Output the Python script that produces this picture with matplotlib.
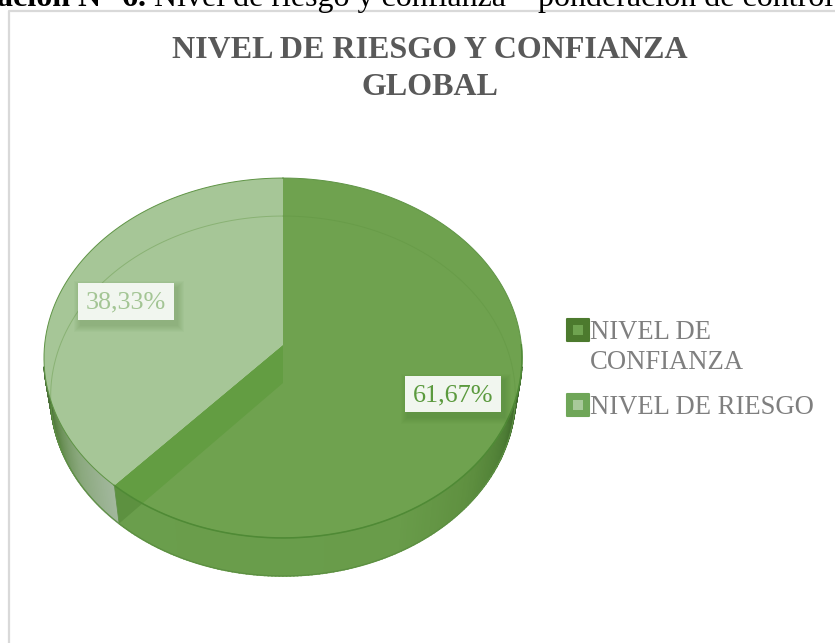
import numpy as np
import matplotlib
matplotlib.use('Agg')
import matplotlib.pyplot as plt
from matplotlib.colors import LinearSegmentedColormap
from matplotlib.patches import Rectangle

categories = [['NIVEL DE', 'CONFIANZA'], ['NIVEL DE RIESGO']]
values = [61.67, 38.33]
value_labels = ['61,67%', '38,33%']
caption_bold = 'ación N° 6.'
caption_rest = ' Nivel de riesgo y confianza – ponderación de control'
title = 'NIVEL DE RIESGO Y CONFIANZA\nGLOBAL'

plt.rcParams['font.family'] = ['Liberation Serif', 'DejaVu Serif']

fig = plt.figure(figsize=(8.35, 6.43), dpi=100)
ax = fig.add_axes([0, 0, 1, 1])
ax.set_xlim(0, 835)
ax.set_ylim(643, 0)
ax.axis('off')

# pie is a tilted disc, so map the unit circle with a small perspective
CX = 283
DEPTH = 38
LOW_SCALE = 0.972
def project(theta):
    u, v = np.sin(theta), np.cos(theta)
    w = 0.0722 * v + 1
    return CX + 238.4 * u / w, (-154.1 * v + 345) / w

def project_low(theta):
    x, y = project(theta)
    return CX + (x - CX) * LOW_SCALE, y + DEPTH

split = 2 * np.pi * values[0] / sum(values)
th_dark = np.linspace(0, split, 200)
th_light = np.linspace(split, 2 * np.pi, 140)

# side walls, coloured by angle
wall_dark = LinearSegmentedColormap.from_list('wd', [
    (0, '#36592a'), (0.07, '#3f6a2c'), (0.15, '#4f7f36'), (0.28, '#5f9040'), (0.45, '#699c4a'), (1, '#6a9e4c')])
wall_light = LinearSegmentedColormap.from_list('wl', [
    (0, '#a3b89e'), (0.35, '#8aa87d'), (0.7, '#5f8749'), (1, '#4a6f38')])

def draw_wall(start, stop, cmap):
    th = np.linspace(start, stop, 150)
    for i in range(len(th) - 1):
        xa, ya = project(th[i])
        xb, yb = project(th[i + 1])
        xc, yc = project_low(th[i + 1])
        xd, yd = project_low(th[i])
        ax.fill([xa, xb, xc, xd], [ya, yb, yc, yd], color=cmap(i / 149), lw=1.2, zorder=2)

draw_wall(np.pi / 2 + 0.12, split, wall_dark)
draw_wall(split, 2 * np.pi * 0.75 - 0.12, wall_light)

# top faces
px, py = project(th_dark)
ax.fill(np.r_[CX, px], np.r_[345, py], color='#6fa24f', lw=0, zorder=3)
px, py = project(th_light)
ax.fill(np.r_[CX, px], np.r_[345, py], color='#a6c697', lw=0, zorder=3)

# inner wall between the slices, seen through the dark slice
ex, ey = project(split)
lx, ly = project_low(split)
arc = np.linspace(split - 0.5, split, 300)
ax_pts, ay_pts = project(arc)
cross = (ax_pts - CX) * (ly - 345 - DEPTH) - (ay_pts - 345 - DEPTH) * (lx - CX)
mx, my = ax_pts[np.argmin(np.abs(cross))], ay_pts[np.argmin(np.abs(cross))]
ax.fill([CX, ex, mx, CX], [345, ey, my, 345 + DEPTH], color='#639d42', lw=0, zorder=4)
ax.fill([ex, mx, lx], [ey, my, ly], color='#5d9140', lw=0, zorder=4)

# rim of the bottom disc shows through the transparent top
th_all = np.linspace(0, 2 * np.pi, 400)
rx, ry = project_low(th_all)
rx[ry > ey - 70] = np.nan
ax.plot(rx, ry, color='#5f9440', lw=0.7, alpha=0.4, zorder=5)

# outlines
px, py = project(th_all)
ax.plot(px, py, color='#5f9445', lw=0.7, zorder=5)
th_front = np.linspace(np.pi / 2, split, 200)
fx, fy = project(th_front)
ax.plot(fx, fy, color='#4f8a35', lw=1.1, zorder=5)
th_low = np.linspace(np.pi / 2 + 0.12, 3 * np.pi / 2 - 0.12, 300)
fx, fy = project_low(th_low)
ax.plot(fx, fy, color='#5c8f42', lw=0.8, zorder=5)
ax.plot([ex, lx], [ey, ly], color='#5f8f47', lw=0.6, zorder=5)

# data labels with their soft shadow
label_boxes = [(405, 376, 96, 36, '#5b9a3e'), (78, 283, 96, 37, '#a3c594')]
for (bx, by, bw, bh, col), lab in zip(label_boxes, value_labels):
    for grow in range(7, 0, -1):
        ax.add_patch(Rectangle((bx + 3 - grow, by + 5 - grow), bw + 2 * grow, bh + 2 * grow,
                               fc='#3f6a2a', ec='none', alpha=0.03, zorder=6))
    ax.add_patch(Rectangle((bx, by), bw, bh, fc='#f1f6ef', ec='none', zorder=7))
    ax.text(bx + bw / 2, by + bh / 2 + 1, lab, color=col, fontsize=18.8, ha='center',
            va='center', zorder=8)

# legend
legend_y = [318, 393]
legend_outer = ['#4c7a2e', '#6fa658']
legend_inner = ['#6fa350', '#a8c99a']
for y, lines, out, inn in zip(legend_y, categories, legend_outer, legend_inner):
    ax.add_patch(Rectangle((566.5, y + 0.5), 22, 22, fc=out, ec=out, lw=1.5, joinstyle='round', zorder=3))
    ax.add_patch(Rectangle((573, y + 7), 10, 10, fc=inn, ec='none', zorder=4))
    for i, line in enumerate(lines):
        ax.text(590, y + 21 + 30 * i, line, color='#7f7f7f', fontsize=19.2, va='baseline',
                ha='left', zorder=4)

ax.text(430, 69, title, color='#595959', fontsize=23, fontweight='bold', ha='center',
        va='center', linespacing=1.36)

# frame of the chart
ax.plot([9, 9, 835], [643, 10.5, 10.5], color='#d9d9d9', lw=1.6, zorder=1)

# clipped caption above the chart
t = ax.text(-3, 6, caption_bold, color='black', fontsize=23, fontweight='bold', va='baseline')
fig.canvas.draw()
w = t.get_window_extent().width
ax.text(-3 + w, 6, caption_rest, color='black', fontsize=23, va='baseline')

fig.savefig('out.png', dpi=100)
